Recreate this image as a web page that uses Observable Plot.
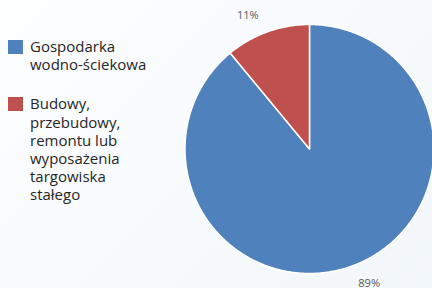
<!DOCTYPE html>
<html><head><meta charset="utf-8">
<script src="https://cdn.jsdelivr.net/npm/d3@7"></script>
<script src="https://cdn.jsdelivr.net/npm/@observablehq/plot@0.6"></script>
<style>
html,body{margin:0;padding:0;width:432px;height:288px;overflow:hidden;}
#wrap{position:relative;width:432px;height:288px;background:linear-gradient(135deg,#fdfeff 0%,#f2f7fb 100%);font-family:"Open Sans",sans-serif;}
#chart{position:absolute;left:0;top:0;}
#legend{position:absolute;left:8px;top:37px;color:#262626;font-size:15px;line-height:18.2px;}
.item{position:relative;padding-left:22px;width:150px;}
.sw{position:absolute;left:0;top:3px;width:15px;height:14px;}
</style></head>
<body><div id="wrap"><div id="chart"></div><div id="legend"></div></div>
<script>
const categories = ["Gospodarka\nwodno-ściekowa", "Budowy,\nprzebudowy,\nremontu lub\nwyposażenia\ntargowiska\nstałego"];
const values = [89, 11];
const labels = ["89%", "11%"];
const colors = ["#4f81bd", "#c0504d"];

const data = categories.map((c, i) => ({category: c, value: values[i], label: labels[i]}));
const arcs = d3.pie().sort(null).value(d => d.value)(data);

const pts = [];
arcs.forEach(a => {
  pts.push({category: a.data.category, x: 0, y: 0});
  const n = Math.max(2, Math.ceil((a.endAngle - a.startAngle) / 0.01));
  for (let k = 0; k <= n; k++) {
    const t = a.startAngle + (a.endAngle - a.startAngle) * k / n;
    pts.push({category: a.data.category, x: Math.sin(t), y: Math.cos(t)});
  }
});

const R = 124.5, cx = 309, cy = 148.5, W = 432, H = 288;
const lr = 1.11;
const labelMarks = arcs.map(a => {
  const m = (a.startAngle + a.endAngle) / 2;
  const d = {x: Math.sin(m) * lr, y: Math.cos(m) * lr, label: a.data.label};
  const left = Math.sin(m) < 0;
  return Plot.text([d], {x: "x", y: "y", text: "label",
    textAnchor: left ? "end" : "start",
    lineAnchor: Math.cos(m) > 0 ? "bottom" : "top",
    dx: left ? -4 : 2,
    fill: "#595959", fontSize: 11, fontFamily: "Open Sans"});
});

const chart = Plot.plot({
  width: W, height: H,
  marginTop: 0, marginBottom: 0, marginLeft: 0, marginRight: 0,
  style: {background: "transparent", overflow: "hidden"},
  x: {domain: [-cx / R, (W - cx) / R], axis: null},
  y: {domain: [-(H - cy) / R, cy / R], axis: null},
  color: {domain: categories, range: colors},
  marks: [
    Plot.line(pts, {x: "x", y: "y", z: "category", fill: "category", stroke: "white",
      strokeWidth: 1.5, strokeLinejoin: "round", curve: "linear-closed"}),
    ...labelMarks
  ]
});
document.getElementById("chart").appendChild(chart);

const legend = document.getElementById("legend");
categories.forEach((c, i) => {
  const it = document.createElement("div");
  it.className = "item";
  it.style.marginBottom = i === 0 ? "21px" : "0";
  const sw = document.createElement("div");
  sw.className = "sw"; sw.style.background = colors[i];
  it.appendChild(sw);
  c.split("\n").forEach(line => {
    const l = document.createElement("div"); l.textContent = line; it.appendChild(l);
  });
  legend.appendChild(it);
});
</script></body></html>
